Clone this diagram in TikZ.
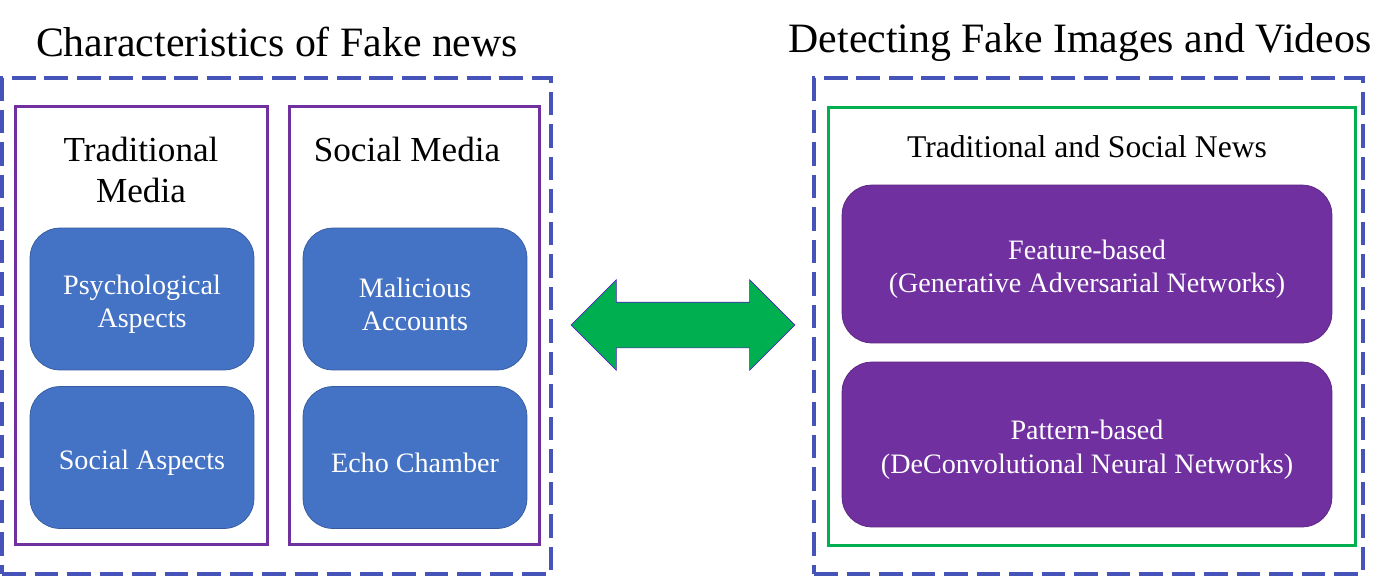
\documentclass[tikz,border=0pt]{standalone}
\usepackage{fontspec}
\setmainfont{Liberation Serif}
\usetikzlibrary{shapes.arrows}
\definecolor{azul}{RGB}{68,114,196}
\definecolor{roxo}{RGB}{112,48,160}
\definecolor{verde}{RGB}{0,176,80}
\definecolor{tracejado}{RGB}{70,84,186}
\newcommand{\apoio}{\rule{0pt}{17pt}}
\tikzset{
  quadro/.style={draw=tracejado, line width=1.8pt, dash pattern=on 13.5pt off 5pt, minimum width=10.98cm, minimum height=9.92cm},
  moldura/.style={draw=#1, line width=1.7pt, minimum height=8.78cm},
  bloco/.style={draw=#1!80!black, fill=#1, rounded corners=0.6cm, text=white, align=center, font=\fontsize{16}{19}\selectfont},
  titulo/.style={font=\fontsize{23.8}{28}\selectfont},
  subtitulo/.style={align=center, font=\fontsize{20}{23}\selectfont}
}
\begin{document}
\begin{tikzpicture}[x=0.02cm, y=-0.02cm] %pixels da figura
\useasboundingbox (0,0) rectangle (1400,576);
	%Titulos
\node[titulo] (tituloEsq) at (277,42) {Characteristics of Fake news};
\node[titulo] (tituloDir) at (1080,42) {Detecting Fake Images and Videos};
	%Quadros tracejados
\node[quadro] (esq) at (276.5,326) {};
\node[quadro] (dir) at (1088.5,326) {};
	%Molduras
\node[moldura=roxo, minimum width=5.06cm] (tradicional) at (141.5,325.5) {};
\node[moldura=roxo, minimum width=5.02cm] (social) at (414.5,325.5) {};
\node[moldura=verde, minimum width=10.56cm] (noticias) at (1092,326.5) {};
\node[subtitulo] (tradTexto) at (141,170) {Traditional\\Media};
\node[subtitulo] (socialTexto) at (407,149) {Social Media};
\node[subtitulo, font=\fontsize{18}{21}\selectfont] (noticiasTexto) at (1087,147) {Traditional and Social News};
	%Caixas azuis
\node[bloco=azul, minimum width=4.48cm, minimum height=2.84cm] (psico) at (142,299) {\apoio Psychological\\Aspects};
\node[bloco=azul, minimum width=4.48cm, minimum height=2.84cm] (sociais) at (142,457.5) {\apoio Social Aspects};
\node[bloco=azul, minimum width=4.48cm, minimum height=2.84cm] (contas) at (415,299) {\apoio Malicious\\Accounts};
\node[bloco=azul, minimum width=4.48cm, minimum height=2.84cm] (eco) at (415,457.5) {\apoio Echo Chamber};
	%Caixas roxas
\node[bloco=roxo, minimum width=9.8cm, minimum height=3.16cm] (atributos) at (1087,264) {\apoio Feature-based\\(Generative Adversarial Networks)};
\node[bloco=roxo, minimum width=9.8cm, minimum height=3.3cm] (padroes) at (1087,444.5) {\apoio Pattern-based\\(DeConvolutional Neural Networks)};
	%Seta dupla
\node[double arrow, draw=roxo!70!blue, fill=verde, inner xsep=0pt, inner ysep=0.45cm, minimum height=4.48cm, double arrow head extend=0.45cm] (seta) at (683,325) {};
\end{tikzpicture}
\end{document}
